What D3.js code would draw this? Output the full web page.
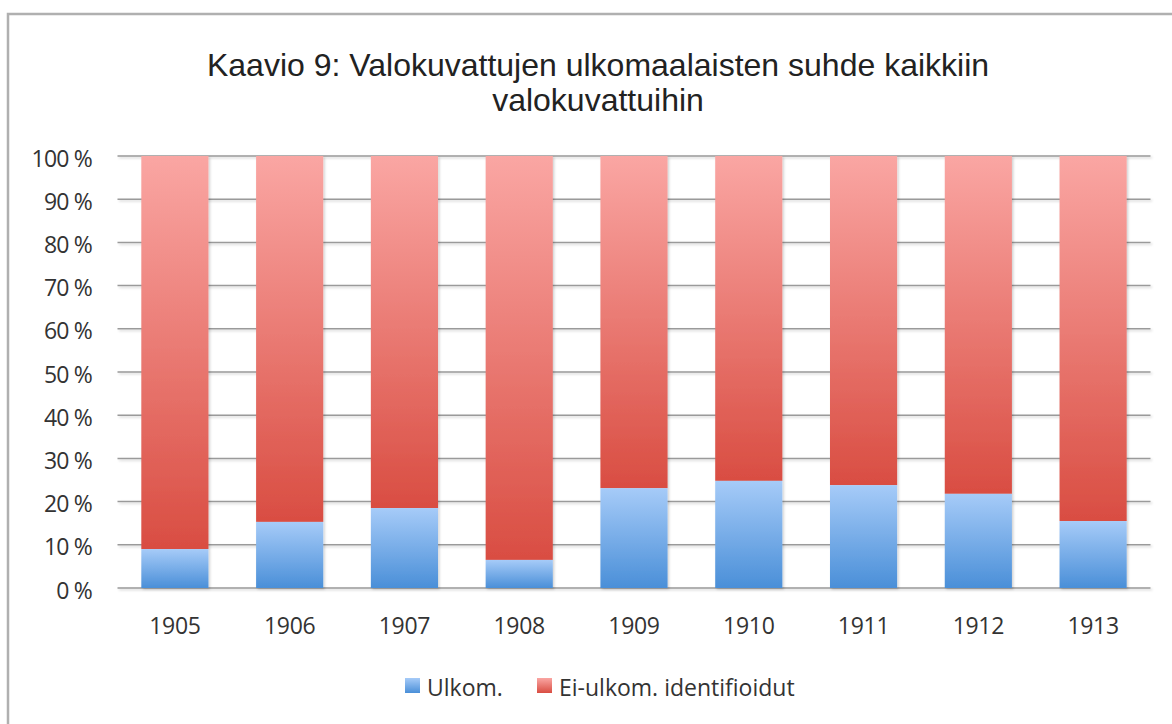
<!DOCTYPE html>
<html><head><meta charset="utf-8">
<script src="https://cdn.jsdelivr.net/npm/d3@7"></script>
<style>body{margin:0;background:#fff}svg{display:block}</style>
</head><body>
<script>
const years = ["1905","1906","1907","1908","1909","1910","1911","1912","1913"];
const ulkom = [9.0, 15.3, 18.5, 6.5, 23.1, 24.8, 23.8, 21.8, 15.5];
const eiUlkom = ulkom.map(v => 100 - v);
const yTicks = [0,10,20,30,40,50,60,70,80,90,100];
const seriesNames = ["Ulkom.", "Ei-ulkom. identifioidut"];
const titleLines = ["Kaavio 9: Valokuvattujen ulkomaalaisten suhde kaikkiin", "valokuvattuihin"];

(function(){
const W = 1172, H = 724;
const svg = d3.select("body").append("svg").attr("width", W).attr("height", H);
const defs = svg.append("defs");
const gb = defs.append("linearGradient").attr("id","gBlue").attr("x1",0).attr("y1",0).attr("x2",0).attr("y2",1);
gb.append("stop").attr("offset","0%").attr("stop-color","#a6cbf8");
gb.append("stop").attr("offset","100%").attr("stop-color","#4a8fd8");
const gr = defs.append("linearGradient").attr("id","gRed").attr("x1",0).attr("y1",0).attr("x2",0).attr("y2",1);
gr.append("stop").attr("offset","0%").attr("stop-color","#faa6a3");
gr.append("stop").attr("offset","100%").attr("stop-color","#d94d42");
const f = defs.append("filter").attr("id","sh").attr("filterUnits","userSpaceOnUse")
  .attr("x",0).attr("y",0).attr("width",W).attr("height",H);
f.append("feDropShadow").attr("dx",1.5).attr("dy",1.5).attr("stdDeviation",1.2).attr("flood-color","#000").attr("flood-opacity",0.18);

// outer frame
svg.append("rect").attr("x",8).attr("y",14).attr("width",1180).attr("height",730)
  .attr("fill","none").attr("stroke","#b0b0b0").attr("stroke-width",2.5);

// title
svg.append("g").selectAll("text").data(titleLines).join("text")
  .attr("x",598).attr("y",(d,i)=>76+i*35).attr("text-anchor","middle")
  .attr("font-family","Liberation Sans, Arial, sans-serif").attr("font-size",32).attr("fill","#222")
  .text(d=>d);

const pl = 117.5, pr = 1150.5, pt = 156, pb = 588;
const x = d3.scaleBand().domain(years).range([pl, pr]).paddingInner(0.415).paddingOuter(0.2075);
const y = d3.scaleLinear().domain([0,100]).range([pb, pt]);

// gridlines
svg.append("g").attr("filter","url(#sh)").selectAll("line").data(yTicks).join("line")
  .attr("x1",pl).attr("x2",pr).attr("y1",d=>y(d)).attr("y2",d=>y(d))
  .attr("stroke","#9a9a9a").attr("stroke-width",1.5);

const font = "Open Sans, DejaVu Sans, sans-serif";
// y axis labels
const yAxis = d3.axisLeft(y).tickValues(yTicks).tickSize(0).tickPadding(0).tickFormat(d=>d+" %");
const yg = svg.append("g").attr("transform",`translate(${92},2)`).call(yAxis);
yg.select(".domain").remove();
yg.selectAll("text").attr("font-family",font).attr("font-size",23).attr("fill","#333").attr("dy","0.35em").attr("letter-spacing","-0.8");

// x axis labels
const xAxis = d3.axisBottom(x).tickSize(0).tickPadding(0);
const xg = svg.append("g").attr("transform",`translate(0,${634})`).call(xAxis);
xg.select(".domain").remove();
xg.selectAll("text").attr("font-family",font).attr("font-size",23).attr("fill","#333").attr("dy","0").attr("letter-spacing","-0.3");

// bars
const bars = svg.append("g").attr("filter","url(#sh)");
bars.selectAll("rect.red").data(years).join("rect").attr("class","red")
  .attr("x",d=>x(d)).attr("width",x.bandwidth())
  .attr("y",(d,i)=>y(ulkom[i]+eiUlkom[i])).attr("height",(d,i)=>y(ulkom[i])-y(ulkom[i]+eiUlkom[i]))
  .attr("fill","url(#gRed)");
bars.selectAll("rect.blue").data(years).join("rect").attr("class","blue")
  .attr("x",d=>x(d)).attr("width",x.bandwidth())
  .attr("y",(d,i)=>y(ulkom[i])).attr("height",(d,i)=>y(0)-y(ulkom[i]))
  .attr("fill","url(#gBlue)");

// legend
const legX = [405, 537];
const lg = svg.append("g");
seriesNames.forEach((n,i)=>{
  lg.append("rect").attr("x",legX[i]).attr("y",678).attr("width",15).attr("height",15)
    .attr("fill", i===0 ? "url(#gBlue)" : "url(#gRed)");
  lg.append("text").attr("x",legX[i]+22).attr("y",696)
    .attr("font-family",font).attr("font-size",23).attr("fill","#333").text(n);
});
})();
</script>
</body></html>
